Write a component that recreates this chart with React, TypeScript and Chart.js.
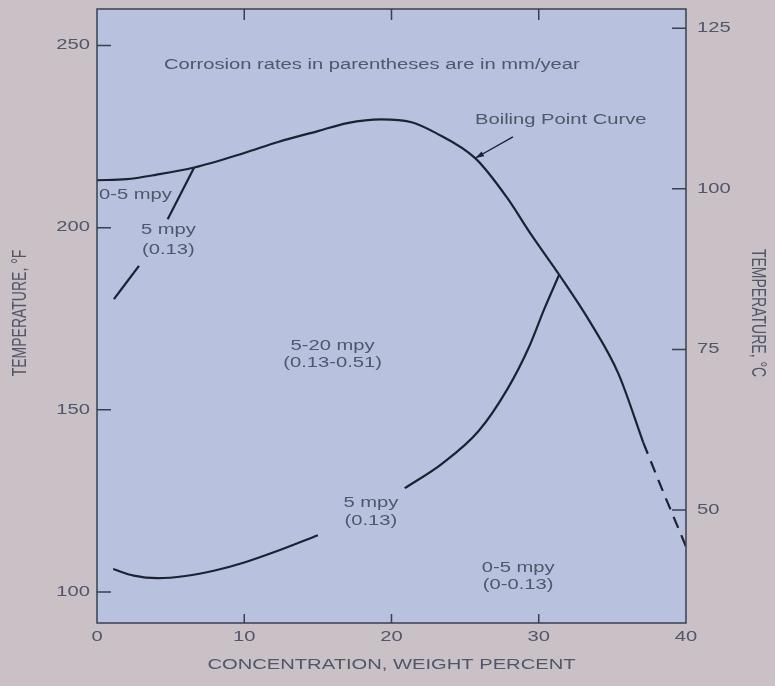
import React, { useEffect, useRef } from "react";
import { Chart, registerables } from "chart.js";

Chart.register(...registerables);

// Axis ticks
const xTicks = [0, 10, 20, 30, 40];
const yTicksF = [100, 150, 200, 250];
const yTicksC = [50, 75, 100, 125];

// Axis titles
const xTitle = "CONCENTRATION, WEIGHT PERCENT";
const yTitleF = "TEMPERATURE, °F";
const yTitleC = "TEMPERATURE, °C";

// Boiling point curve (solid part, then dashed extrapolation)
const boilingX = [0, 2, 4, 6.6, 10, 12.3, 15, 17, 19.3, 21.3, 23, 25.7, 27.8, 29.5, 31.4, 33.5, 35.4, 37.1];
const boilingT = [213, 213.3, 214.5, 216.5, 220.5, 223.5, 226.5, 228.7, 229.7, 229, 226, 219, 208.5, 198, 187, 174, 160, 141];
const boilingDashX = [37.1, 38.5, 40];
const boilingDashT = [141, 127, 112.5];

// Lower 5 mpy boundary (two pieces, gap for label)
const lowerAX = [1.1, 2.5, 4.1, 6, 8, 10, 12, 15.0];
const lowerAT = [106.3, 104.5, 103.8, 104.4, 105.9, 108.1, 110.9, 115.6];
const lowerBX = [20.9, 23.4, 25.9, 27.9, 29.3, 30.4, 31.4];
const lowerBT = [128.5, 135.1, 144.1, 155.9, 166.9, 177.9, 187.2];

// Upper-left 5 mpy boundary (two pieces, gap for label)
const upperAX = [6.6, 4.8];
const upperAT = [216.5, 202.3];
const upperBX = [2.85, 1.15];
const upperBT = [189.5, 180.4];

// Annotations (data coordinates: concentration %, °F)
const noteTexts = [
  "Corrosion rates in parentheses are in mm/year",
  "Boiling Point Curve",
  "0-5 mpy",
  "5 mpy",
  "(0.13)",
  "5-20 mpy",
  "(0.13-0.51)",
  "5 mpy",
  "(0.13)",
  "0-5 mpy",
  "(0-0.13)",
];
const noteX = [4.55, 25.67, 0.14, 4.85, 4.85, 16.0, 16.0, 18.6, 18.6, 28.6, 28.6];
const noteT = [244.6, 229.5, 209.0, 199.4, 193.9, 167.5, 162.9, 124.4, 119.5, 106.6, 101.9];
const noteAlign = ["left", "left", "left", "center", "center", "center", "center", "center", "center", "center", "center"];

// Arrow pointing to boiling curve: tail -> tip
const arrowX = [28.25, 25.7];
const arrowT = [224.9, 219.1];

const FONT = "'Liberation Sans', Arial, sans-serif";
const FONT_SIZE = 14;
const STRETCH = 1.44;
const TEXT = "#51566a";
const LINE = "#1d2134";
const OUTER_BG = "#c9c1c6";
const PLOT_BG = "#b8c1dd";

const pts = (xs: number[], ys: number[]) => xs.map((x, i) => ({ x, y: ys[i] }));

function txt(ctx: CanvasRenderingContext2D, s: string, x: number, y: number, align: CanvasTextAlign, rot = 0) {
  ctx.save();
  ctx.translate(x, y);
  if (rot) {
    ctx.rotate(rot);
    ctx.scale(1, STRETCH);
  } else {
    ctx.scale(STRETCH, 1);
  }
  ctx.textAlign = align;
  ctx.textBaseline = "middle";
  ctx.fillText(s, 0, 0);
  ctx.restore();
}

const decor = {
  id: "decor",
  beforeDraw(chart: any) {
    const { ctx, chartArea: a } = chart;
    ctx.save();
    ctx.fillStyle = OUTER_BG;
    ctx.fillRect(0, 0, chart.width, chart.height);
    ctx.fillStyle = PLOT_BG;
    ctx.fillRect(a.left, a.top, a.right - a.left, a.bottom - a.top);
    ctx.restore();
  },
  afterDatasetsDraw(chart: any) {
    const { ctx, chartArea: a, scales } = chart;
    const xs = scales.x, ys = scales.y, y2 = scales.y2;
    ctx.save();
    // frame
    ctx.strokeStyle = "#3a3f52";
    ctx.lineWidth = 1.5;
    ctx.strokeRect(a.left, a.top, a.right - a.left, a.bottom - a.top);
    // inward ticks
    ctx.beginPath();
    xTicks.slice(1, -1).forEach((v) => {
      const px = xs.getPixelForValue(v);
      ctx.moveTo(px, a.bottom);
      ctx.lineTo(px, a.bottom - 9);
      ctx.moveTo(px, a.top);
      ctx.lineTo(px, a.top + 11);
    });
    yTicksF.forEach((v) => {
      const py = ys.getPixelForValue(v);
      ctx.moveTo(a.left, py);
      ctx.lineTo(a.left + 14, py);
    });
    yTicksC.forEach((v) => {
      const py = y2.getPixelForValue(v);
      ctx.moveTo(a.right, py);
      ctx.lineTo(a.right - 14, py);
    });
    ctx.stroke();

    // text
    ctx.fillStyle = TEXT;
    ctx.font = `${FONT_SIZE}px ${FONT}`;
    xTicks.forEach((v) => txt(ctx, String(v), xs.getPixelForValue(v), a.bottom + 14, "center"));
    yTicksF.forEach((v) => txt(ctx, String(v), a.left - 7, ys.getPixelForValue(v), "right"));
    yTicksC.forEach((v) => txt(ctx, String(v), a.right + 11, y2.getPixelForValue(v), "left"));
    txt(ctx, xTitle, (a.left + a.right) / 2, a.bottom + 42, "center");
    txt(ctx, yTitleF, 20, 313, "center", -Math.PI / 2);
    txt(ctx, yTitleC, 758, 313, "center", Math.PI / 2);
    noteTexts.forEach((t, i) => {
      txt(ctx, t, xs.getPixelForValue(noteX[i]), ys.getPixelForValue(noteT[i]), noteAlign[i] as CanvasTextAlign);
    });

    // arrow
    const x0 = xs.getPixelForValue(arrowX[0]), y0 = ys.getPixelForValue(arrowT[0]);
    const x1 = xs.getPixelForValue(arrowX[1]), y1 = ys.getPixelForValue(arrowT[1]);
    ctx.strokeStyle = LINE;
    ctx.lineWidth = 1.3;
    ctx.beginPath();
    ctx.moveTo(x0, y0);
    ctx.lineTo(x1, y1);
    ctx.stroke();
    const ang = Math.atan2(y1 - y0, x1 - x0);
    ctx.fillStyle = LINE;
    ctx.beginPath();
    ctx.moveTo(x1, y1);
    ctx.lineTo(x1 - 9 * Math.cos(ang - 0.3), y1 - 9 * Math.sin(ang - 0.3));
    ctx.lineTo(x1 - 9 * Math.cos(ang + 0.3), y1 - 9 * Math.sin(ang + 0.3));
    ctx.closePath();
    ctx.fill();
    ctx.restore();
  },
};

export default function App() {
  const ref = useRef<HTMLCanvasElement | null>(null);
  useEffect(() => {
    if (!ref.current) return;
    const lineDs = (data: any[], dash: number[] = []) => ({
      data,
      borderColor: LINE,
      borderWidth: 2.2,
      borderDash: dash,
      pointRadius: 0,
      fill: false,
      cubicInterpolationMode: "monotone" as const,
      yAxisID: "y",
    });
    const noPadV = (w: number) => (s: any) => {
      s.width = w;
      s.paddingTop = 0;
      s.paddingBottom = 0;
    };
    const chart = new Chart(ref.current, {
      type: "line",
      data: {
        datasets: [
          lineDs(pts(boilingX, boilingT)),
          lineDs(pts(boilingDashX, boilingDashT), [12, 8]),
          lineDs(pts(lowerAX, lowerAT)),
          lineDs(pts(lowerBX, lowerBT)),
          lineDs(pts(upperAX, upperAT)),
          lineDs(pts(upperBX, upperBT)),
        ],
      },
      options: {
        animation: false,
        responsive: false,
        events: [],
        layout: { padding: { top: 9, left: 0, right: 0, bottom: 0 } },
        plugins: { legend: { display: false }, tooltip: { enabled: false } },
        scales: {
          x: {
            type: "linear",
            min: 0,
            max: 40,
            position: "bottom",
            afterBuildTicks: (s: any) => { s.ticks = xTicks.map((v) => ({ value: v })); },
            afterFit: (s: any) => { s.height = 63; s.paddingLeft = 0; s.paddingRight = 0; },
            grid: { display: false, drawTicks: false },
            border: { display: false },
            ticks: { display: false },
          },
          y: {
            type: "linear",
            min: 91.5,
            max: 260,
            position: "left",
            afterBuildTicks: (s: any) => { s.ticks = yTicksF.map((v) => ({ value: v })); },
            afterFit: noPadV(97),
            grid: { display: false, drawTicks: false },
            border: { display: false },
            ticks: { display: false },
          },
          y2: {
            type: "linear",
            min: 32.4,
            max: 128,
            position: "right",
            afterBuildTicks: (s: any) => { s.ticks = yTicksC.map((v) => ({ value: v })); },
            afterFit: noPadV(89),
            grid: { display: false, drawTicks: false },
            border: { display: false },
            ticks: { display: false },
          },
        },
      },
      plugins: [decor],
    });
    return () => chart.destroy();
  }, []);
  return (
    <div style={{ position: "fixed", left: 0, top: 0, width: 775, height: 686 }}>
      <canvas ref={ref} width={775} height={686} style={{ width: 775, height: 686, display: "block" }} />
    </div>
  );
}
